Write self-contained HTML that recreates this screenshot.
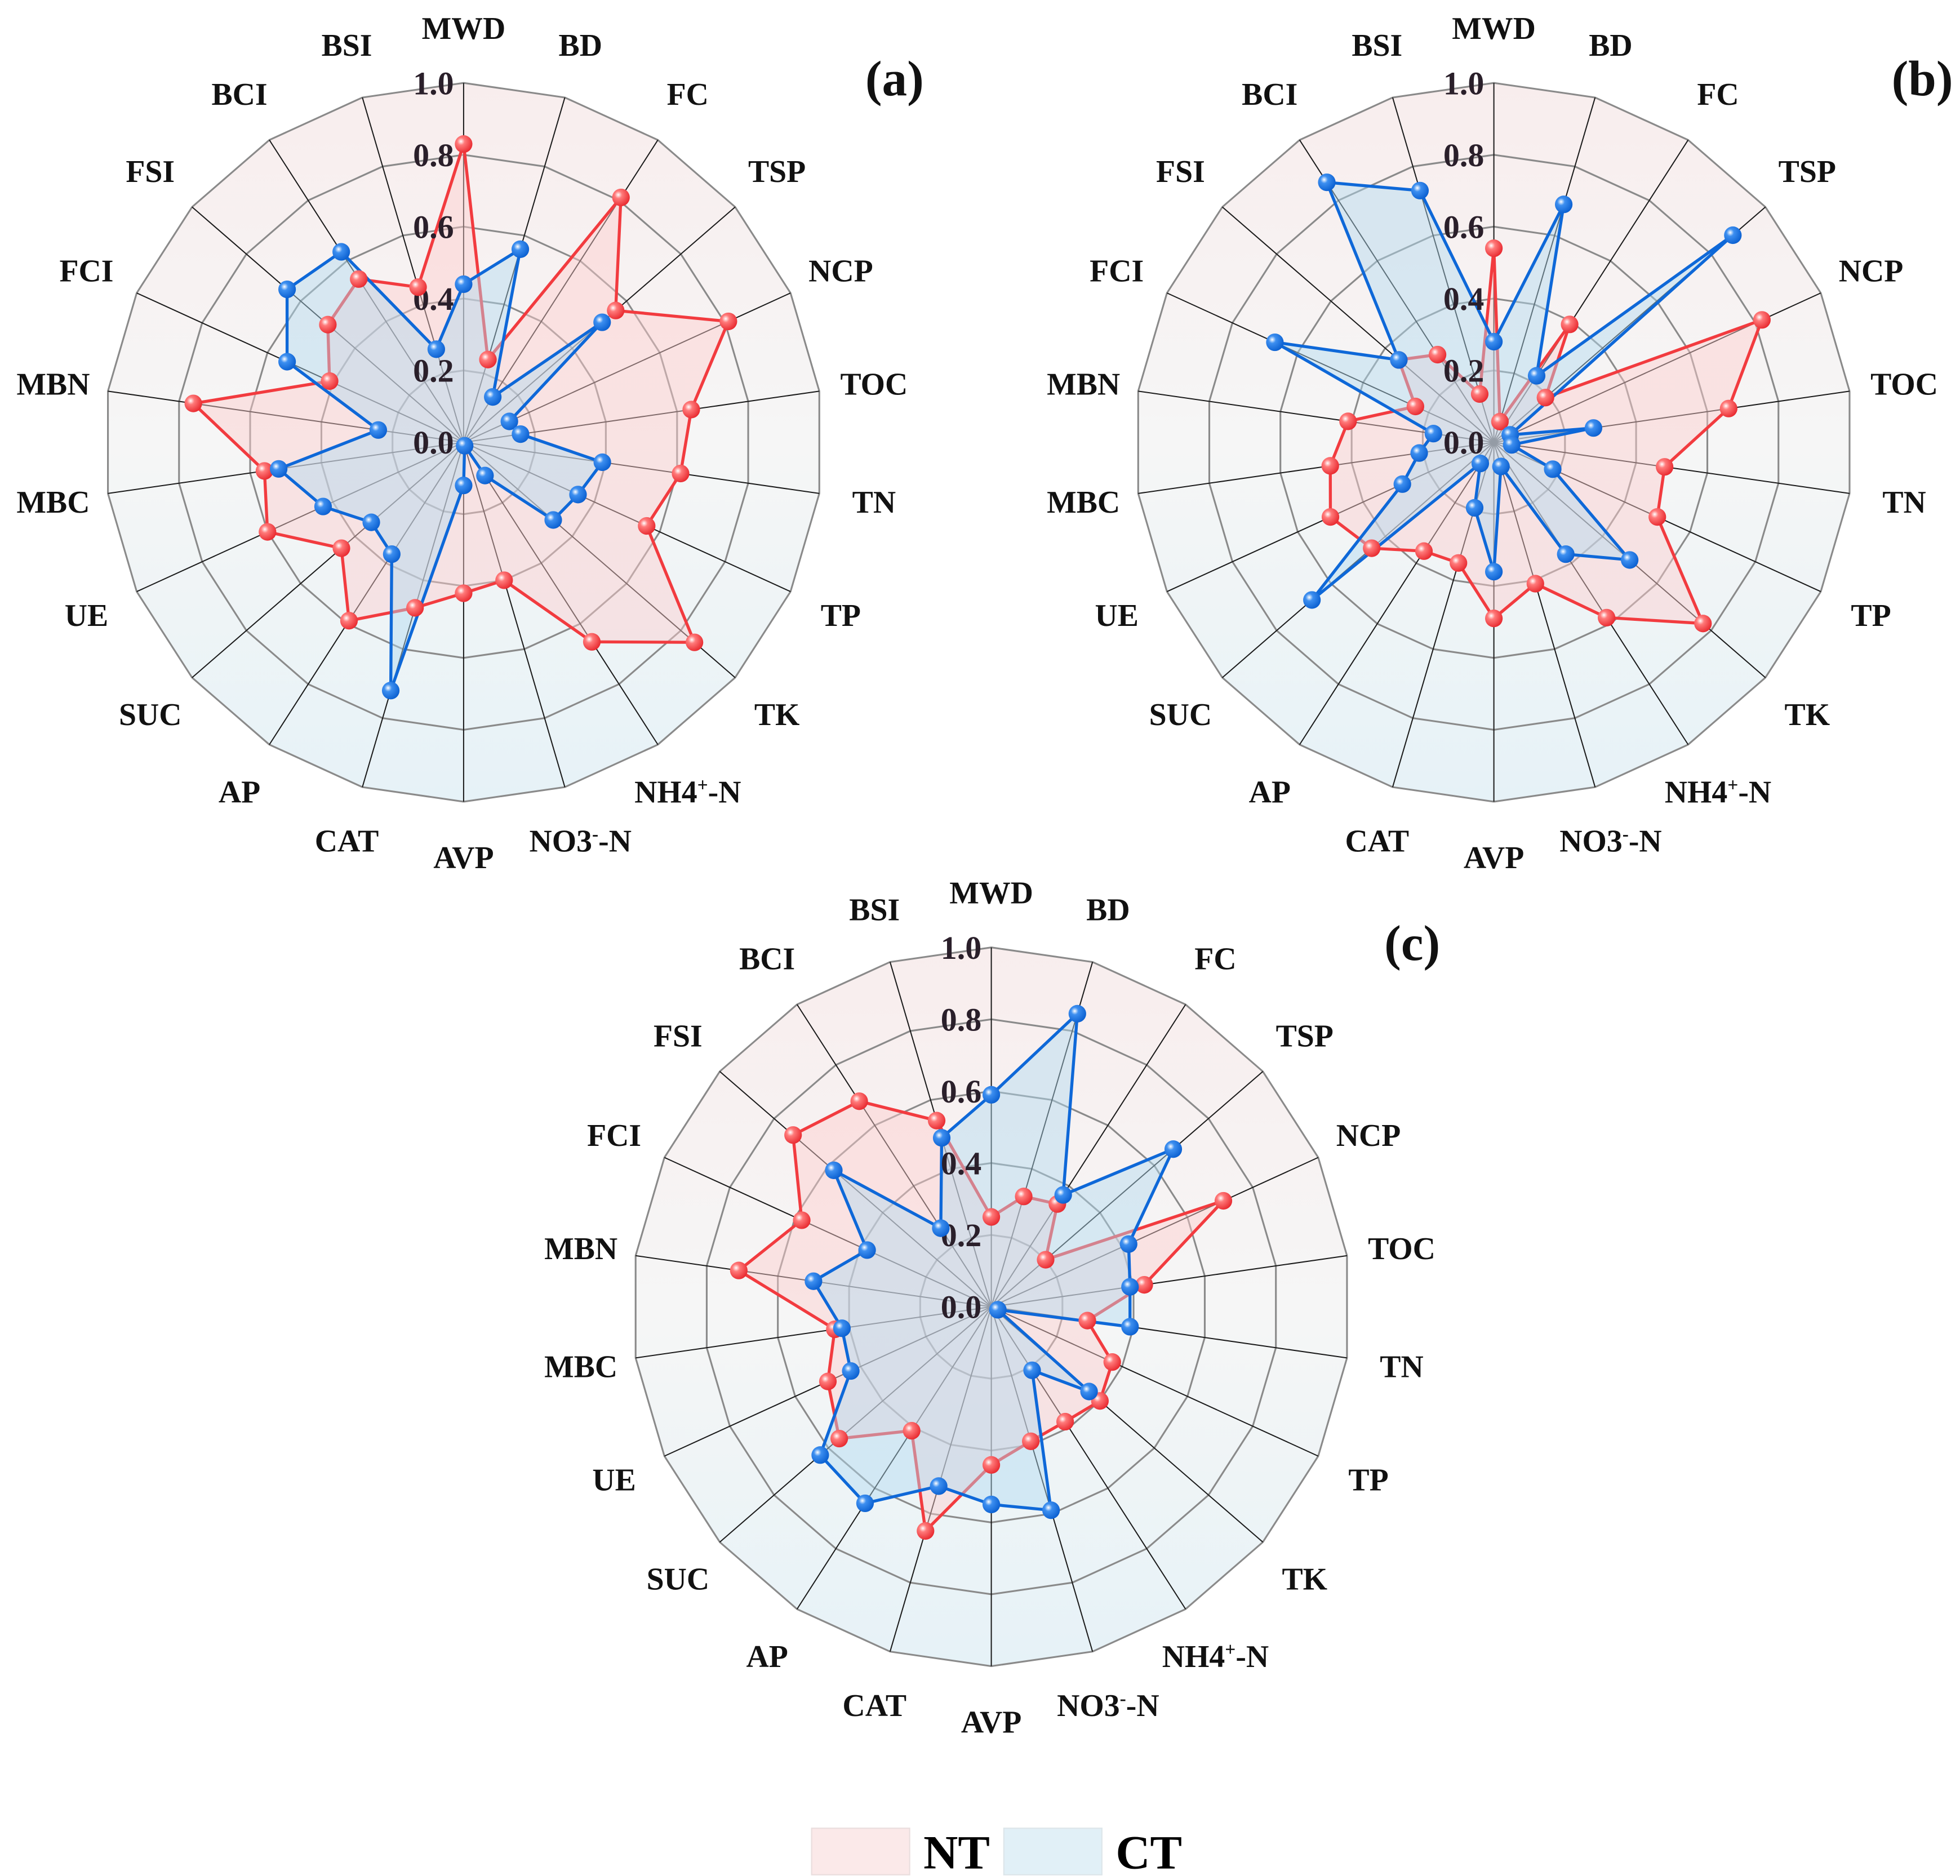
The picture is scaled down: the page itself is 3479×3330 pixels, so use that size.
<!DOCTYPE html>
<html><head><meta charset="utf-8"><style>
html,body{margin:0;padding:0;background:#fff;}
svg{display:block;}
text{font-family:"Liberation Serif","DejaVu Serif",serif;font-weight:bold;}
</style></head><body>
<svg id="fig" width="3479" height="3330" viewBox="0 0 1560 1493" preserveAspectRatio="none" xmlns="http://www.w3.org/2000/svg">
<defs>
<linearGradient id="bgGrad" x1="0" y1="0" x2="0" y2="1">
<stop offset="0" stop-color="#f8eded"/><stop offset="0.5" stop-color="#f6f6f6"/><stop offset="1" stop-color="#e6f2f7"/>
</linearGradient>
<radialGradient id="redBall" cx="0.35" cy="0.35" r="0.7">
<stop offset="0" stop-color="#ffffff"/><stop offset="0.3" stop-color="#ff7a7a"/><stop offset="1" stop-color="#e8282e"/>
</radialGradient>
<radialGradient id="blueBall" cx="0.35" cy="0.35" r="0.7">
<stop offset="0" stop-color="#ffffff"/><stop offset="0.3" stop-color="#3d8ff0"/><stop offset="1" stop-color="#0a5fd0"/>
</radialGradient>
</defs>
<g id="charts"></g>
<g>
<rect x="646" y="1455" width="78" height="37" fill="#fbe9e9" stroke="#eadede"/>
<text x="735" y="1487" font-size="38">NT</text>
<rect x="799" y="1455" width="78" height="37" fill="#e1f0f7" stroke="#dde6ea"/>
<text x="888" y="1487" font-size="38">CT</text>
</g>
</svg>
<script>
const axesLabels = ["MWD","BD","FC","TSP","NCP","TOC","TN","TP","TK","NH4+-N","NO3--N","AVP","CAT","AP","SUC","UE","MBC","MBN","FCI","FSI","BCI","BSI"];
const tickLabels = ["0.0","0.2","0.4","0.6","0.8","1.0"];
const tickValues = [0,0.2,0.4,0.6,0.8,1.0];
const ntA = [0.83,0.24,0.81,0.56,0.81,0.64,0.61,0.56,0.85,0.66,0.40,0.42,0.48,0.59,0.45,0.60,0.56,0.76,0.41,0.50,0.54,0.45];
const ctA = [0.44,0.56,0.15,0.51,0.14,0.16,0.39,0.35,0.33,0.11,0.01,0.12,0.72,0.37,0.34,0.43,0.52,0.24,0.54,0.65,0.63,0.27];
const ntB = [0.54,0.06,0.39,0.19,0.82,0.66,0.48,0.50,0.77,0.58,0.41,0.49,0.35,0.36,0.45,0.50,0.46,0.41,0.24,0.35,0.29,0.14];
const ctB = [0.28,0.69,0.22,0.88,0.05,0.28,0.05,0.18,0.50,0.37,0.07,0.36,0.19,0.07,0.67,0.28,0.21,0.17,0.67,0.35,0.86,0.73];
const ntC = [0.25,0.32,0.34,0.20,0.71,0.43,0.27,0.37,0.40,0.38,0.39,0.44,0.65,0.41,0.56,0.50,0.44,0.71,0.58,0.73,0.68,0.54];
const ctC = [0.59,0.85,0.37,0.67,0.42,0.39,0.39,0.02,0.36,0.21,0.59,0.55,0.52,0.65,0.63,0.43,0.42,0.50,0.38,0.58,0.26,0.49];
const panels = [
 {id:"a", cx:369, cy:352, nt:ntA, ct:ctA, lx:712, ly:62},
 {id:"b", cx:1189, cy:352, nt:ntB, ct:ctB, lx:1530, ly:62},
 {id:"c", cx:789, cy:1040, nt:ntC, ct:ctC, lx:1124, ly:750}
];
const R = 286;
const NS = "http://www.w3.org/2000/svg";
const root = document.getElementById("charts");
function mk(tag, attrs, parent){const e=document.createElementNS(NS,tag);for(const k in attrs)e.setAttribute(k,attrs[k]);parent.appendChild(e);return e;}
function ang(i){return i*2*Math.PI/axesLabels.length;}
function px(p,i,v){return p.cx+Math.sin(ang(i))*v*R;}
function py(p,i,v){return p.cy-Math.cos(ang(i))*v*R;}
function ring(p,v){return axesLabels.map((_,i)=>px(p,i,v).toFixed(1)+","+py(p,i,v).toFixed(1)).join(" ");}
panels.forEach(p=>{
  const g=mk("g",{},root);
  
  
  const bg=mk("polygon",{points:ring(p,1),fill:"url(#bgGrad)",stroke:"none"},g);
  
  
  tickValues.slice(1).forEach(v=>{
    const r=mk("polygon",{points:ring(p,v),fill:"none",stroke:"#8a8a8a","stroke-width":1.4},g);
    
    
  });
  axesLabels.forEach((lab,i)=>{
    const l=mk("line",{x1:p.cx,y1:p.cy,x2:px(p,i,1),y2:py(p,i,1),stroke:"#1a1a1a","stroke-width":0.9},g);
    
    
  });
  [["nt","rgba(252,205,205,0.45)","#f23b3f","url(#redBall)"],["ct","rgba(175,218,240,0.45)","#0e68d8","url(#blueBall)"]].forEach(([key,fill,stroke,ball])=>{
    const vals=p[key];
    const pts=vals.map((v,i)=>px(p,i,v).toFixed(1)+","+py(p,i,v).toFixed(1)).join(" ");
    const poly=mk("polygon",{points:pts,fill:fill,stroke:stroke,"stroke-width":2.4,"stroke-linejoin":"round"},g);
    
    
  });
  tickValues.forEach((v,k)=>{
    const t=mk("text",{x:p.cx-24,y:p.cy-v*R+9,"font-size":26,"text-anchor":"middle",fill:"#2a1f2a"},g);
    t.textContent=tickLabels[k];
    
    
  });
  [["nt","url(#redBall)"],["ct","url(#blueBall)"]].forEach(([key,ball])=>{
    p[key].forEach((v,i)=>{
      const c=mk("circle",{cx:px(p,i,v),cy:py(p,i,v),r:7,fill:ball},g);
      
      
    });
  });
  axesLabels.forEach((lab,i)=>{
    const lr=R+44;
    const t=mk("text",{x:p.cx+Math.sin(ang(i))*lr,y:p.cy-Math.cos(ang(i))*lr+9,"font-size":25,"text-anchor":"middle",fill:"#111"},g);
    if(lab==="NH4+-N"){t.innerHTML='NH4<tspan dy="-9" font-size="15">+</tspan><tspan dy="9">-N</tspan>';}
    else if(lab==="NO3--N"){t.innerHTML='NO3<tspan dy="-9" font-size="15">-</tspan><tspan dy="9">-N</tspan>';}
    else t.textContent=lab;
    
    
  });
  const pl=mk("text",{x:p.lx,y:p.ly+14,"font-size":40,"text-anchor":"middle",fill:"#111"},g);
  pl.textContent="("+p.id+")";
  
  
});
</script>
</body></html>
